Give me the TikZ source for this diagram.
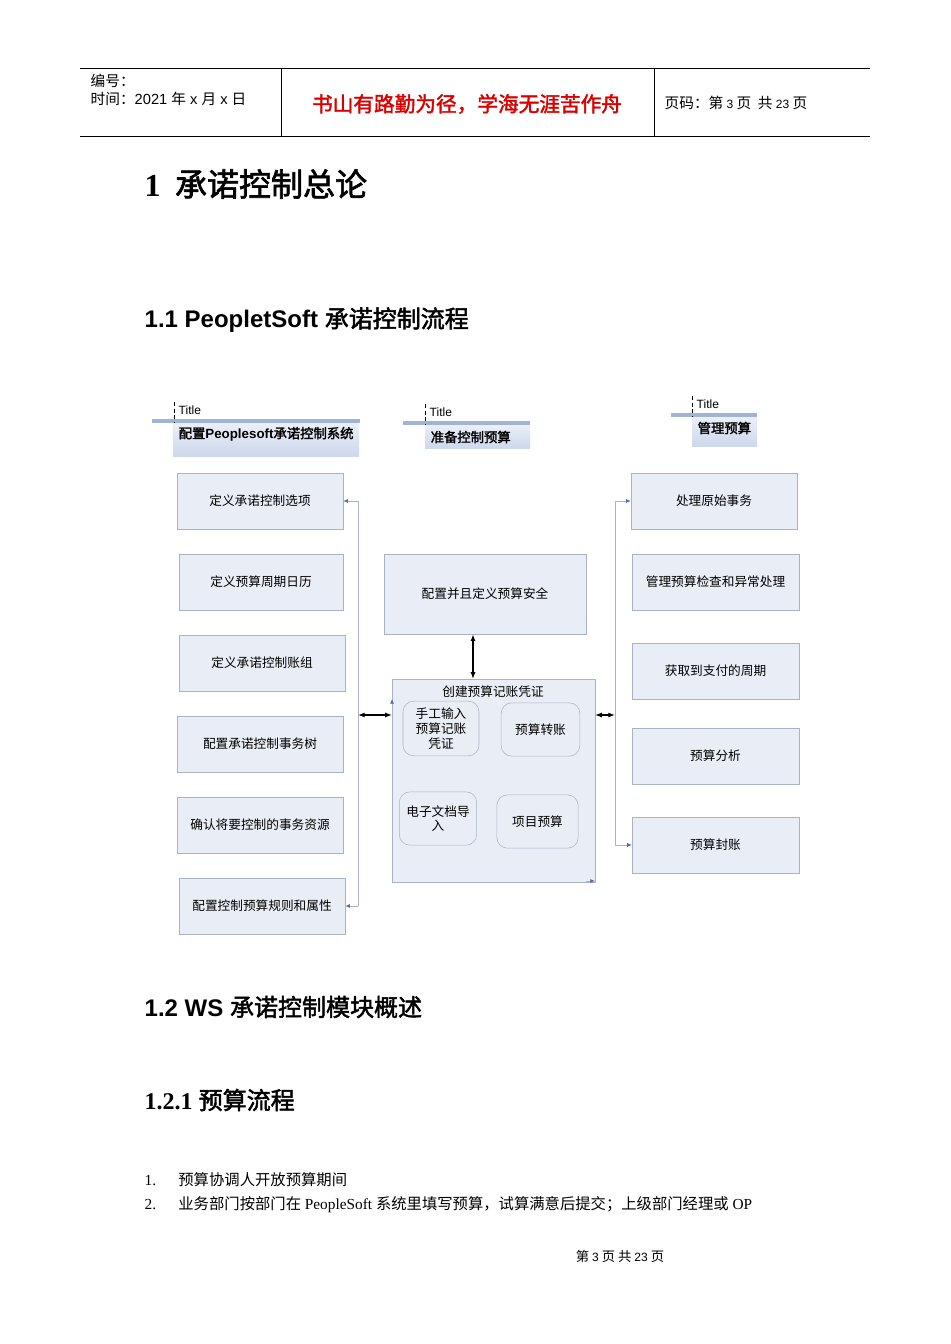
\documentclass[tikz,border=0pt]{standalone}
\usetikzlibrary{arrows.meta}
\usepackage{fontspec}
\setmainfont{Liberation Serif}
\newfontfamily\cjk{Noto Sans CJK SC}[AutoFakeBold=2]
\newfontfamily\sans{Liberation Sans}
\definecolor{bfill}{RGB}{233,237,246}
\definecolor{bline}{RGB}{170,178,195}
\definecolor{tfill}{RGB}{205,216,236}
\definecolor{tbar}{RGB}{160,180,215}
\definecolor{tipc}{RGB}{70,110,180}
\begin{document}
\begin{tikzpicture}[x=0.75pt,y=-0.75pt,
 box/.style={draw=bline,fill=bfill,font=\cjk\fontsize{9.5}{11}\selectfont,inner sep=1pt,align=center},
 rbox/.style={box,rounded corners=8pt},
 lnk/.style={draw=bline,line width=0.6pt},
 tip/.style={-{Latex[length=3.5pt,width=3pt,color=tipc]},draw=bline,line width=0.6pt},
 dbl/.style={{Latex[length=5pt]}-{Latex[length=5pt]},line width=0.9pt}]
\useasboundingbox (0,0) rectangle (950,1344);
\fill[white] (0,0) rectangle (950,1344);
% header
\draw[line width=0.5pt] (80,68) -- (870,68) (80,136) -- (870,136) (281,68) -- (281,136) (654,68) -- (654,136);
\node[anchor=west,font=\cjk\fontsize{11}{13}\selectfont,align=left] (h1) at (86,90) {编号：\\时间：{\sans 2021 }年{\sans\ x }月{\sans\ x }日};
\node[font=\cjk\bfseries\fontsize{15.5}{17}\selectfont,text=red!85!black] (h2) at (467,104) {书山有路勤为径，学海无涯苦作舟};
\node[anchor=west,font=\cjk\fontsize{11}{13}\selectfont] (h3) at (660,103) {页码：第{\sans\small\ 3 }页\ \ 共{\sans\small\ 23 }页};
% headings
\node[anchor=west,font=\cjk\bfseries\fontsize{24}{26}\selectfont] (t1) at (140,184) {{\rmfamily 1}\ \ 承诺控制总论};
\node[anchor=west,font=\cjk\bfseries\fontsize{18}{20}\selectfont] (t2) at (140,320) {{\sans 1.1 PeopletSoft }承诺控制流程};
\node[anchor=west,font=\cjk\bfseries\fontsize{18}{20}\selectfont] (t3) at (140,1007) {{\sans 1.2 WS }承诺控制模块概述};
\node[anchor=west,font=\cjk\bfseries\fontsize{18}{20}\selectfont] (t4) at (140,1100) {{\rmfamily 1.2.1 }预算流程};
\node[anchor=west,font=\cjk\fontsize{11.5}{13}\selectfont] (p1) at (140,1180) {{\rmfamily 1.}\quad\ \ 预算协调人开放预算期间};
\node[anchor=west,font=\cjk\fontsize{11.5}{13}\selectfont] (p2) at (140,1205) {{\rmfamily 2.}\quad\ \ 业务部门按部门在{\rmfamily\ PeopleSoft }系统里填写预算，试算满意后提交；上级部门经理或{\rmfamily\ OP}};
\node[font=\cjk\fontsize{10}{12}\selectfont] (ft) at (620,1256) {第\ {\sans\small 3}\ 页\ 共\ {\sans\small 23}\ 页};
% titles
\fill[tbar] (152,419) rectangle (360,423);
\draw[densely dashed,line width=0.3pt] (174,402) -- (174,423);
\node[anchor=west,font=\sans\fontsize{9}{10}\selectfont] (ta) at (174,410) {Title};
\shade[top color=tfill!40,bottom color=tfill] (173,423) rectangle (359,456);
\node[anchor=west,font=\cjk\bfseries\fontsize{10}{11}\selectfont] (A) at (174,434) {配置{\sans\bfseries Peoplesoft}承诺控制系统};
\fill[tbar] (403,421) rectangle (530,425);
\draw[densely dashed,line width=0.3pt] (425,404) -- (425,425);
\node[anchor=west,font=\sans\fontsize{9}{10}\selectfont] (tb) at (425,412) {Title};
\shade[top color=tfill!40,bottom color=tfill] (425,425) rectangle (530,448);
\node[anchor=west,font=\cjk\bfseries\fontsize{10}{11}\selectfont] (B) at (426,437) {准备控制预算};
\fill[tbar] (671,413) rectangle (757,417);
\draw[densely dashed,line width=0.3pt] (692,396) -- (692,417);
\node[anchor=west,font=\sans\fontsize{9}{10}\selectfont] (tc) at (692,404) {Title};
\shade[top color=tfill!40,bottom color=tfill] (692,417) rectangle (757,446);
\node[anchor=west,font=\cjk\bfseries\fontsize{10}{11}\selectfont] (C) at (693,428) {管理预算};
% left boxes
\node[box,minimum width=124.5pt,minimum height=42pt] (l1) at (260,501) {定义承诺控制选项};
\node[box,minimum width=123pt,minimum height=42pt] (l2) at (261,582) {定义预算周期日历};
\node[box,minimum width=124.5pt,minimum height=42pt] (l3) at (262,663) {定义承诺控制账组};
\node[box,minimum width=124.5pt,minimum height=42pt] (l4) at (260,744) {配置承诺控制事务树};
\node[box,minimum width=124.5pt,minimum height=42pt] (l5) at (260,825) {确认将要控制的事务资源};
\node[box,minimum width=124.5pt,minimum height=42pt] (l6) at (262,906) {配置控制预算规则和属性};
% right boxes
\node[box,minimum width=124.5pt,minimum height=42pt] (r1) at (714,501) {处理原始事务};
\node[box,minimum width=125pt,minimum height=42pt] (r2) at (715.5,582) {管理预算检查和异常处理};
\node[box,minimum width=125pt,minimum height=42pt] (r3) at (715.5,671) {获取到支付的周期};
\node[box,minimum width=125pt,minimum height=42pt] (r4) at (715.5,756) {预算分析};
\node[box,minimum width=125pt,minimum height=42pt] (r5) at (715.5,845) {预算封账};
% center
\node[box,minimum width=151.5pt,minimum height=60pt] (cs) at (485,594) {配置并且定义预算安全};
\node[box,minimum width=152pt,minimum height=152pt] (ct) at (493.5,780.5) {};
\node[font=\cjk\fontsize{9.5}{11}\selectfont] (ctl) at (493,692) {创建预算记账凭证};
\node[rbox,minimum width=57pt,minimum height=41pt,text width=52pt] (i1) at (441,728.5) {手工输入\\预算记账\\凭证};
\node[rbox,minimum width=59pt,minimum height=40pt] (i2) at (540.5,729.5) {预算转账};
\node[rbox,minimum width=58pt,minimum height=40pt,text width=54pt] (i3) at (438,818.5) {电子文档导\\入};
\node[rbox,minimum width=61pt,minimum height=40pt] (i4) at (537.5,821.5) {项目预算};
% connectors
\coordinate (lv1) at (358,501); \coordinate (lv2) at (358,906); \coordinate (lm) at (358,715);
\draw[lnk] (lv1) -- (lv2);
\draw[tip] (lv1) -- (l1.east);
\draw[tip] (lv2) -- (l6.east);
\draw[dbl] (lm) -- (ct.west |- lm);
\coordinate (rv1) at (615,501); \coordinate (rv2) at (615,845); \coordinate (rm) at (615,715);
\draw[lnk] (rv1) -- (rv2);
\draw[tip] (rv1) -- (r1.west);
\draw[tip] (rv2) -- (r5.west);
\draw[dbl] (ct.east |- rm) -- (rm);
\draw[dbl] (cs.south -| 473,0) -- (ct.north -| 473,0);
\draw[tip] (392,708) -- (392,699);
\draw[tip] (586,881) -- (595,881);
\end{tikzpicture}
\end{document}
